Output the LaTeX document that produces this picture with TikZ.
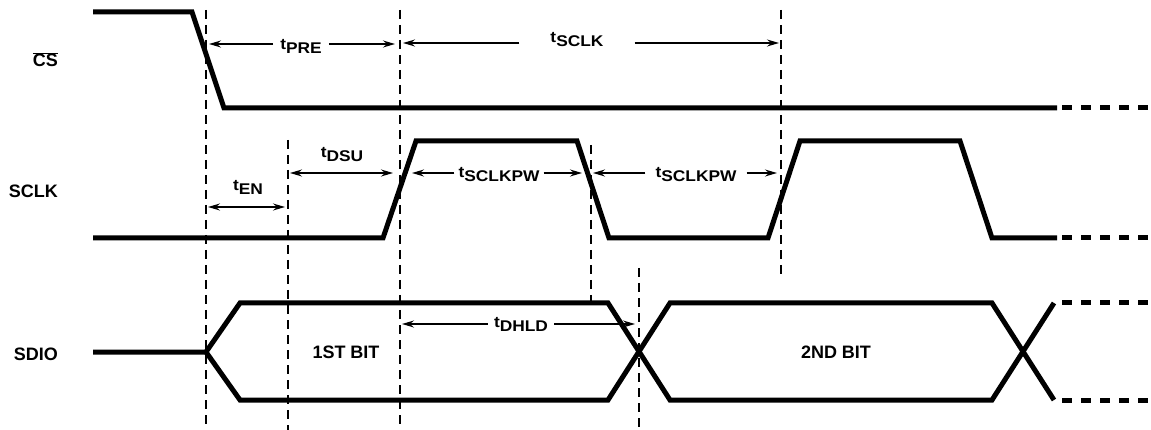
\documentclass[tikz,border=0pt]{standalone}
\usepackage{fontspec}
\setmainfont{Liberation Sans}
\newfontfamily\tfont[FakeStretch=1.12]{Liberation Sans}
\usetikzlibrary{arrows.meta}
\tikzstyle{signal}=[line width=5pt, line join=miter]
\tikzstyle{signal_cont}=[line width=5pt, dash pattern=on 10pt off 9pt]
\tikzstyle{guide}=[line width=1.3pt, dash pattern=on 9pt off 6pt]
\tikzstyle{dim}=[line width=1.4pt, -{Stealth[length=12pt,width=7pt,inset=4pt]}]
\tikzstyle{dim_both}=[dim, {Stealth[length=12pt,width=7pt,inset=4pt]}-{Stealth[length=12pt,width=7pt,inset=4pt]}]
\tikzstyle{sig_label}=[font=\fontsize{18}{18}\selectfont\bfseries, inner sep=0pt]
\tikzstyle{t_label}=[font=\fontsize{15.5}{15.5}\tfont\bfseries, inner ysep=0pt, inner xsep=7pt]
\newcommand{\tsub}[1]{t\raisebox{-4pt}{#1}}

\begin{document}
\begin{tikzpicture}[x=1pt, y=-1pt]
          \useasboundingbox (0,0) rectangle (1151,430);
          \node[sig_label, anchor=base east] (cs) at (58,67) {$\overline{\mbox{CS}}$};
          \node[sig_label, anchor=base east] (sclk) at (58,198) {SCLK};
          \node[sig_label, anchor=base east] (sdio) at (58,360) {SDIO};
          \draw[guide] (206,10) -- (206,430);
          \draw[guide] (288,140) -- (288,430);
          \draw[guide] (400,10) -- (400,430);
          \draw[guide] (591,145) -- (591,305);
          \draw[guide] (639,268) -- (639,430);
          \draw[guide] (781,10) -- (781,278);
          \draw[signal] (93,12) -- (192,12) -- (224,108) -- (1057,108);
          \draw[signal_cont] (1062,108) -- (1151,108);
          \draw[signal] (93,238) -- (383,238) -- (416,141) -- (577,141) -- (609,238) -- (768,238) -- (800,141) -- (960,141) -- (992,238) -- (1057,238);
          \draw[signal_cont] (1062,238) -- (1151,238);
          \draw[signal] (93,352) -- (206,352) -- (240,303) -- (608,303) -- (670,400) -- (992,400) -- (1054,303);
          \draw[signal] (206,352) -- (240,400) -- (608,400) -- (670,303) -- (992,303) -- (1054,400);
          \draw[signal_cont] (1062,303) -- (1151,303);
          \draw[signal_cont] (1062,400) -- (1151,400);
          \node[sig_label] (bit1) at (346,352) {1ST BIT};
          \node[sig_label] (bit2) at (836,352) {2ND BIT};
          \node[t_label] (tpre) at (301,46.5) {\tsub{PRE}};
          \coordinate (pre_l) at (209,44);
          \coordinate (pre_r) at (395,44);
          \draw[dim] (tpre.west |- pre_l) -- (pre_l);
          \draw[dim] (tpre.east |- pre_r) -- (pre_r);
          \node[t_label, inner xsep=31pt] (tsclk) at (577,40) {\tsub{SCLK}};
          \coordinate (sclk_l) at (403,43);
          \coordinate (sclk_r) at (779,43);
          \draw[dim] (tsclk.west |- sclk_l) -- (sclk_l);
          \draw[dim] (tsclk.east |- sclk_r) -- (sclk_r);
          \node[t_label, inner xsep=4pt] (tpw1) at (499,175) {\tsub{SCLKPW}};
          \coordinate (pw1_l) at (412,173);
          \coordinate (pw1_r) at (582,173);
          \draw[dim] (tpw1.west |- pw1_l) -- (pw1_l);
          \draw[dim] (tpw1.east |- pw1_r) -- (pw1_r);
          \node[t_label, inner xsep=10pt] (tpw2) at (696,175) {\tsub{SCLKPW}};
          \coordinate (pw2_l) at (593,173);
          \coordinate (pw2_r) at (777,173);
          \draw[dim] (tpw2.west |- pw2_l) -- (pw2_l);
          \draw[dim] (tpw2.east |- pw2_r) -- (pw2_r);
          \node[t_label] (tdsu) at (342,155) {\tsub{DSU}};
          \coordinate (dsu_l) at (290,173);
          \coordinate (dsu_r) at (393,173);
          \draw[dim_both] (dsu_l) -- (dsu_r);
          \node[t_label] (ten) at (248,187.5) {\tsub{EN}};
          \coordinate (en_l) at (208,207);
          \coordinate (en_r) at (285,207);
          \draw[dim_both] (en_l) -- (en_r);
          \node[t_label, inner xsep=6pt] (tdhld) at (521,324.5) {\tsub{DHLD}};
          \coordinate (dhld_l) at (402,324);
          \coordinate (dhld_r) at (635,324);
          \draw[dim] (tdhld.west |- dhld_l) -- (dhld_l);
          \draw[dim] (tdhld.east |- dhld_r) -- (dhld_r);
        \end{tikzpicture}
\end{document}
